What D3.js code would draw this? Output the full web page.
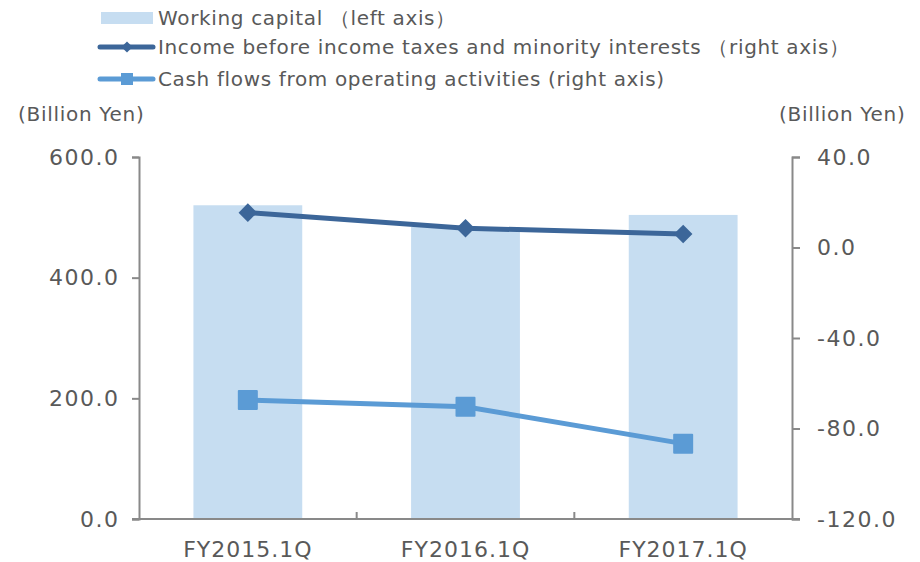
<!DOCTYPE html>
<html>
<head>
<meta charset="utf-8">
<script src="https://cdn.jsdelivr.net/npm/d3@7"></script>
<style>
body { margin: 0; background: #fff; }
text { font-family: "DejaVu Sans", sans-serif; fill: #595959; }
</style>
</head>
<body>
<div id="chart"></div>
<script>
// data
var categories = ["FY2015.1Q", "FY2016.1Q", "FY2017.1Q"];
var workingCapital = [520, 484, 504];
var incomeBeforeTax = [15.4, 8.5, 6.0];
var cashFlows = [-67.4, -70.4, -86.7];
var leftTicks = [0, 200, 400, 600];
var rightTicks = [-120, -80, -40, 0, 40];

var width = 920, height = 562;
var margin = {top: 157, right: 128, bottom: 43, left: 139};
var w = width - margin.left - margin.right,
    h = height - margin.top - margin.bottom;

var svg = d3.select("#chart").append("svg")
    .attr("width", width)
    .attr("height", height);

var g = svg.append("g")
    .attr("transform", "translate(" + margin.left + "," + margin.top + ")");

var x = d3.scaleBand().domain(categories).range([0, w]).padding(0);
var yL = d3.scaleLinear().domain([0, 600]).range([h, 0]);
var yR = d3.scaleLinear().domain([-120, 40]).range([h, 0]);

var axisColor = "#898989";
var fmt = function(d) { return d.toFixed(1); };

// bars
var barW = x.bandwidth() * 0.5;
g.selectAll(".bar")
  .data(workingCapital)
  .enter().append("rect")
    .attr("x", function(d, i) { return x(categories[i]) + (x.bandwidth() - barW) / 2; })
    .attr("y", function(d) { return yL(d); })
    .attr("width", barW)
    .attr("height", function(d) { return h - yL(d); })
    .style("fill", "#c6ddf1");

// left axis
var leftAxis = g.append("g")
    .call(d3.axisLeft(yL).tickValues(leftTicks).tickSize(7).tickPadding(14)
      .tickFormat(fmt));
// right axis
var rightAxis = g.append("g")
    .attr("transform", "translate(" + w + ",0)")
    .call(d3.axisRight(yR).tickValues(rightTicks).tickSize(8).tickPadding(17)
      .tickFormat(fmt));

[leftAxis, rightAxis].forEach(function(a) {
  a.select(".domain").attr("stroke", axisColor).attr("stroke-width", 2);
  a.selectAll(".tick line").attr("stroke", axisColor).attr("stroke-width", 2);
  a.selectAll("text").style("font-size", "22px").style("fill", "#595959")
    .style("font-family", "DejaVu Sans").style("letter-spacing", "1.5px");
});
leftAxis.selectAll("text").attr("dx", "1.5px");

// x axis
var xAxis = g.append("g")
    .attr("transform", "translate(0," + h + ")")
    .call(d3.axisBottom(x).tickSize(0).tickPadding(22));
xAxis.select(".domain").remove();
xAxis.selectAll("text").style("font-size", "22px").style("fill", "#595959")
  .style("font-family", "DejaVu Sans").style("letter-spacing", "1px");
g.append("line")
  .attr("x1", -7).attr("x2", w + 8)
  .attr("y1", h).attr("y2", h)
  .attr("stroke", axisColor).attr("stroke-width", 2);
// category separators
g.selectAll(".sep")
  .data(categories.slice(1))
  .enter().append("line")
    .attr("x1", function(d) { return x(d); })
    .attr("x2", function(d) { return x(d); })
    .attr("y1", h).attr("y2", h - 7)
    .attr("stroke", axisColor).attr("stroke-width", 2);

// lines
var cx = function(d, i) { return x(categories[i]) + x.bandwidth() / 2; };
var incomeLine = d3.line().x(cx).y(function(d) { return yR(d); });
g.append("path")
  .attr("d", incomeLine(incomeBeforeTax))
  .attr("fill", "none").attr("stroke", "#3c6699").attr("stroke-width", 5);
g.selectAll(".dia")
  .data(incomeBeforeTax)
  .enter().append("path")
    .attr("d", d3.symbol().type(d3.symbolDiamond2).size(220))
    .attr("transform", function(d, i) { return "translate(" + cx(d, i) + "," + yR(d) + ")"; })
    .attr("fill", "#3c6699");

var cashLine = d3.line().x(cx).y(function(d) { return yR(d); });
g.append("path")
  .attr("d", cashLine(cashFlows))
  .attr("fill", "none").attr("stroke", "#5b9bd5").attr("stroke-width", 5);
g.selectAll(".sq")
  .data(cashFlows)
  .enter().append("rect")
    .attr("x", function(d, i) { return cx(d, i) - 10; })
    .attr("y", function(d) { return yR(d) - 10; })
    .attr("width", 20).attr("height", 20)
    .attr("rx", 1)
    .attr("fill", "#5b9bd5");

// axis titles
svg.append("text").attr("x", 18).attr("y", 121).text("(Billion Yen)")
  .style("font-size", "20px").style("letter-spacing", "0.7px");
svg.append("text").attr("x", 779).attr("y", 121).text("(Billion Yen)")
  .style("font-size", "20px").style("letter-spacing", "0.7px");

// handmade legend
svg.append("rect").attr("x", 101).attr("y", 12).attr("width", 52).attr("height", 12).style("fill", "#c6ddf1");
svg.append("line").attr("x1", 100).attr("x2", 153).attr("y1", 47).attr("y2", 47)
  .attr("stroke", "#3c6699").attr("stroke-width", 5).attr("stroke-linecap", "round");
svg.append("path").attr("d", d3.symbol().type(d3.symbolDiamond2).size(80))
  .attr("transform", "translate(127,47)").attr("fill", "#3c6699");
svg.append("line").attr("x1", 100).attr("x2", 153).attr("y1", 79).attr("y2", 79)
  .attr("stroke", "#5b9bd5").attr("stroke-width", 5).attr("stroke-linecap", "round");
svg.append("rect").attr("x", 121).attr("y", 73).attr("width", 12).attr("height", 12)
  .attr("fill", "#5b9bd5");
var legendText = [
  {y: 25, t: "Working capital （left axis）"},
  {y: 54, t: "Income before income taxes and minority interests （right axis）"},
  {y: 86, t: "Cash flows from operating activities (right axis)"}
];
svg.selectAll(".legtext")
  .data(legendText)
  .enter().append("text")
    .attr("x", 158).attr("y", function(d) { return d.y; })
    .text(function(d) { return d.t; })
    .style("font-size", "20px").style("letter-spacing", "0.65px");
</script>
</body>
</html>
